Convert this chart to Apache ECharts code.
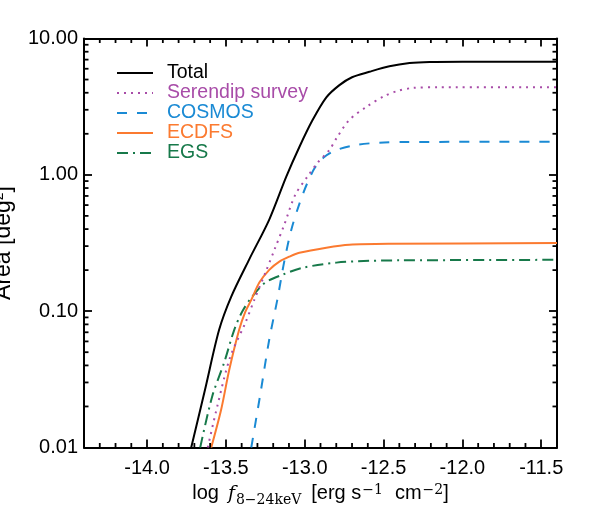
<!DOCTYPE html>
<html>
<head>
<meta charset="utf-8">
<script src="https://cdn.jsdelivr.net/npm/echarts@6/dist/echarts.min.js"></script>
<style>
  html, body { margin: 0; padding: 0; background: #fff; }
  #main { width: 598px; height: 532px; }
</style>
</head>
<body>
<div id="main"></div>
<script>
// 面积-流量曲线，x = log f (8-24keV)，y = Area [deg^2]
const totalX = [-13.720, -13.631, -13.543, -13.466, -13.352, -13.225, -13.117, -13.034, -12.952, -12.863, -12.780, -12.700, -12.590, -12.463, -12.335, -12.208, -12.000, -11.400]
const totalY = [0.01, 0.027, 0.073, 0.128, 0.24, 0.47, 0.97, 1.60, 2.50, 3.70, 4.55, 5.20, 5.70, 6.25, 6.60, 6.73, 6.76, 6.76]

const serendipX = [-13.615, -13.555, -13.473, -13.377, -13.320, -13.250, -13.187, -13.130, -13.060, -12.983, -12.920, -12.844, -12.793, -12.717, -12.609, -12.494, -12.412, -12.316, -12.150, -11.400]
const serendipY = [0.01, 0.020, 0.046, 0.082, 0.121, 0.191, 0.292, 0.430, 0.714, 0.97, 1.22, 1.52, 1.90, 2.53, 3.15, 3.79, 4.12, 4.34, 4.39, 4.39]

const cosmosX = [-13.339, -13.282, -13.225, -13.174, -13.130, -13.085, -13.034, -12.983, -12.933, -12.876, -12.799, -12.672, -12.526, -12.380, -11.400]
const cosmosY = [0.01, 0.0245, 0.062, 0.121, 0.231, 0.396, 0.613, 0.874, 1.14, 1.35, 1.52, 1.66, 1.72, 1.74, 1.75]

const ecdfsX = [-13.593, -13.530, -13.479, -13.416, -13.377, -13.339, -13.288, -13.225, -13.161, -13.098, -13.034, -12.863, -12.717, -12.463, -11.400]
const ecdfsY = [0.01, 0.019, 0.037, 0.073, 0.099, 0.121, 0.162, 0.201, 0.231, 0.251, 0.268, 0.292, 0.307, 0.312, 0.316]

const egsX = [-13.663, -13.587, -13.511, -13.447, -13.397, -13.333, -13.250, -13.142, -13.015, -12.799, -12.590, -12.399, -11.400]
const egsY = [0.01, 0.0237, 0.042, 0.073, 0.099, 0.128, 0.162, 0.185, 0.208, 0.227, 0.234, 0.236, 0.238]

// 坐标轴刻度
const xMin = -14.4
const xMax = -11.4
const yMin = 0.01
const yMax = 10
const xMajorTicks = [-14.0, -13.5, -13.0, -12.5, -12.0, -11.5]
const xMinorTicks = [-14.3, -14.2, -14.1, -13.9, -13.8, -13.7, -13.6, -13.4, -13.3, -13.2, -13.1, -12.9, -12.8, -12.7, -12.6, -12.4, -12.3, -12.2, -12.1, -11.9, -11.8, -11.7, -11.6]
const yMinorTicks = [0.02, 0.03, 0.04, 0.05, 0.06, 0.07, 0.08, 0.09, 0.2, 0.3, 0.4, 0.5, 0.6, 0.7, 0.8, 0.9, 2, 3, 4, 5, 6, 7, 8, 9]

const seriesNames = ['Total', 'Serendip survey', 'COSMOS', 'ECDFS', 'EGS']
const seriesColors = ['#000000', '#a84ca8', '#1a8ad4', '#fb7a30', '#17794a']

const font = 'Liberation Sans'
const pairs = (xs, ys) => xs.map((x, i) => [x, ys[i]])

function lineSeries(i, data, type) {
  return {
    name: seriesNames[i],
    type: 'line',
    data: data,
    symbol: 'none',
    smooth: 0.3,
    clip: true,
    z: 5 - i,
    itemStyle: { color: seriesColors[i] },
    lineStyle: { color: seriesColors[i], width: 2, type: type }
  }
}

const axisLineStyle = { onZero: false, lineStyle: { color: '#000', width: 2 } }
const majorTick = { show: true, inside: true, length: 8, lineStyle: { color: '#000', width: 1.8 } }

const option = {
  animation: false,
  backgroundColor: '#fff',
  grid: { left: 84, right: 41, top: 38.5, bottom: 84.5, outerBoundsMode: 'none', containLabel: false },
  legend: {
    orient: 'vertical',
    left: 116,
    top: 63,
    padding: 0,
    itemWidth: 36,
    itemHeight: 12,
    itemGap: 0,
    itemStyle: { opacity: 0 },
    textStyle: { fontFamily: font, fontSize: 19.5, lineHeight: 19.2, padding: [0, 0, 0, 9] },
    data: seriesNames.map((n, i) => ({ name: n, textStyle: { color: seriesColors[i] } }))
  },
  xAxis: [{
    type: 'value',
    position: 'bottom',
    min: xMin,
    max: xMax,
    axisLine: axisLineStyle,
    axisTick: Object.assign({ customValues: xMajorTicks }, majorTick),
    axisLabel: {
      customValues: xMajorTicks,
      formatter: v => v.toFixed(1),
      color: '#000', fontFamily: font, fontSize: 20, margin: 11
    },
    splitLine: { show: false },
    name: '{n|log}{f|f}{s|8−24keV}{n|[erg s}{p1|−1}{n|cm}{p|−2}{n|]}',
    nameLocation: 'middle',
    nameGap: 28,
    nameTextStyle: {
      rich: {
        n: { fontFamily: font, fontSize: 20, color: '#000' },
        f: { fontFamily: 'DejaVu Serif', fontStyle: 'italic', fontSize: 19, color: '#000', padding: [0, 0, 0, 9] },
        s: { fontFamily: 'DejaVu Serif', fontSize: 14, color: '#000', padding: [12, 10, 0, 1] },
        p1: { fontFamily: 'DejaVu Serif', fontSize: 14, color: '#000', padding: [0, 12, 7, 1] },
        p: { fontFamily: 'DejaVu Serif', fontSize: 14, color: '#000', padding: [0, 0, 7, 1] }
      }
    }
  }, {
    type: 'value',
    position: 'top',
    min: xMin,
    max: xMax,
    axisLine: axisLineStyle,
    axisTick: Object.assign({ customValues: xMajorTicks }, majorTick),
    axisLabel: { show: false },
    splitLine: { show: false }
  }],
  yAxis: [{
    type: 'log',
    logBase: 10,
    position: 'left',
    min: yMin,
    max: yMax,
    axisLine: axisLineStyle,
    axisTick: majorTick,
    axisLabel: {
      formatter: v => Number(v).toFixed(2),
      color: '#000', fontFamily: font, fontSize: 20, margin: 6
    },
    splitLine: { show: false },
    name: '{n|Area [deg}{p|2}{n|]}',
    nameLocation: 'middle',
    nameGap: 68,
    nameTextStyle: {
      rich: {
        n: { fontFamily: font, fontSize: 23, color: '#000' },
        p: { fontFamily: font, fontSize: 14, color: '#000', padding: [0, 0, 10, 0] }
      }
    }
  }, {
    type: 'log',
    logBase: 10,
    position: 'right',
    min: yMin,
    max: yMax,
    axisLine: axisLineStyle,
    axisTick: majorTick,
    axisLabel: { show: false },
    splitLine: { show: false }
  }],
  series: [
    lineSeries(0, pairs(totalX, totalY), 'solid'),
    lineSeries(1, pairs(serendipX, serendipY), [2, 5]),
    lineSeries(2, pairs(cosmosX, cosmosY), [10, 10]),
    lineSeries(3, pairs(ecdfsX, ecdfsY), 'solid'),
    lineSeries(4, pairs(egsX, egsY), [11, 5, 2, 5])
  ]
}

const myChart = echarts.init(document.getElementById('main'))
myChart.setOption(option)

// 次刻度：用坐标轴换算位置后画在四条边上
const toPx = v => myChart.convertToPixel({ gridIndex: 0 }, v)
const tickLen = 4.5
const tickLines = []
const addTick = (x1, y1, x2, y2) => tickLines.push({
  type: 'line', silent: true, z: 100,
  shape: { x1: x1, y1: y1, x2: x2, y2: y2 },
  style: { stroke: '#000', lineWidth: 1.8 }
})
xMinorTicks.forEach(v => {
  const a = toPx([v, yMin])
  const b = toPx([v, yMax])
  addTick(a[0], a[1], a[0], a[1] - tickLen)
  addTick(b[0], b[1], b[0], b[1] + tickLen)
})
yMinorTicks.forEach(v => {
  const a = toPx([xMin, v])
  const b = toPx([xMax, v])
  addTick(a[0], a[1], a[0] + tickLen, a[1])
  addTick(b[0], b[1], b[0] - tickLen, b[1])
})
myChart.setOption({ graphic: { elements: tickLines } })
</script>
</body>
</html>
